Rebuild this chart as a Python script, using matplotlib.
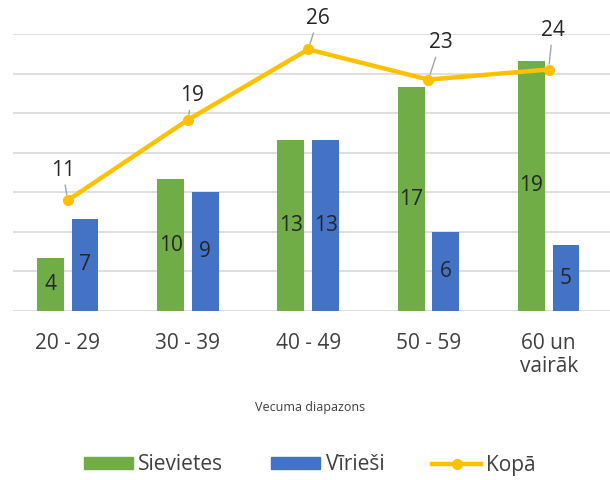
import matplotlib
matplotlib.use("Agg")
import matplotlib.pyplot as plt
import numpy as np
from matplotlib.lines import Line2D
from matplotlib.patches import Patch

categories = ["20 - 29", "30 - 39", "40 - 49", "50 - 59", "60 un\nvairāk"]
sievietes = [4, 10, 13, 17, 19]
virieSi = [7, 9, 13, 6, 5]
kopa = [11, 19, 26, 23, 24]
# label offsets (pixels) for line labels
lbl_off = [(-5, 30), (4, 24), (10, 31), (12, 37), (4, 39)]

plt.rcParams['font.family'] = ['Open Sans', 'DejaVu Sans']

GREEN = "#70AD47"
BLUE = "#4472C4"
GOLD = "#FFC000"
TXT = "#404040"

fig = plt.figure(figsize=(6.1, 4.8), dpi=100)
ax = fig.add_axes([13/610, (480-311)/480, 597/610, 276.7/480])

x = np.arange(len(categories))
w = 0.224
off = 0.144
b1 = ax.bar(x - off, sievietes, w, color=GREEN, zorder=2)
b2 = ax.bar(x + off, virieSi, w, color=BLUE, zorder=2)
ax.set_ylim(0, 21)
ax.set_yticks(np.arange(0, 22, 3))
ax.set_xlim(-0.455, 4.51)
ax.yaxis.grid(True, color="#DCDCDC", lw=1.3, zorder=0)
ax.set_axisbelow(True)
ax.set_xticks(x)
ax.set_xticklabels(categories, linespacing=1.15)
for s in ax.spines.values():
    s.set_visible(False)

for bars, vals in ((b1, sievietes), (b2, virieSi)):
    for r, v in zip(bars, vals):
        ax.text(r.get_x() + r.get_width()/2, v/2, str(v), ha='center', va='center',
                fontsize=15, color="#262626", zorder=3)

ax2 = ax.twinx()
ax2.set_ylim(0, 27.5)
ax2.axis('off')
ax.tick_params(axis='y', left=False, right=False, labelleft=False, labelright=False)
ax.tick_params(axis='x', bottom=False, labelsize=15, labelcolor=TXT, pad=12)
ax2.plot(x, kopa, color=GOLD, lw=3.2, marker='o', markersize=7, zorder=4)
for xi, v, (dx, dy) in zip(x, kopa, lbl_off):
    ax2.annotate(str(v), xy=(xi, v), xytext=(dx, dy), textcoords='offset pixels',
                 ha='center', va='center', fontsize=15, color="#262626",
                 arrowprops=dict(arrowstyle='-', color="#A6A6A6", lw=1,
                                 shrinkA=1, shrinkB=4))

fig.text(310/610, 1 - 408/480, "Vecuma diapazons", ha='center', va='center',
         fontsize=9, color=TXT)

handles = [Patch(color=GREEN), Patch(color=BLUE),
           Line2D([0], [0], color=GOLD, lw=3.2, marker='o', markersize=7)]
fig.legend(handles, ["Sievietes", "Vīrieši", "Kopā"], loc='center',
           bbox_to_anchor=(310/610, 1 - 465/480), ncol=3, frameon=False,
           fontsize=15, labelcolor=TXT, handlelength=2.35, handleheight=0.55,
           handletextpad=0.25, columnspacing=2.3)

fig.savefig("out.png", dpi=100)
